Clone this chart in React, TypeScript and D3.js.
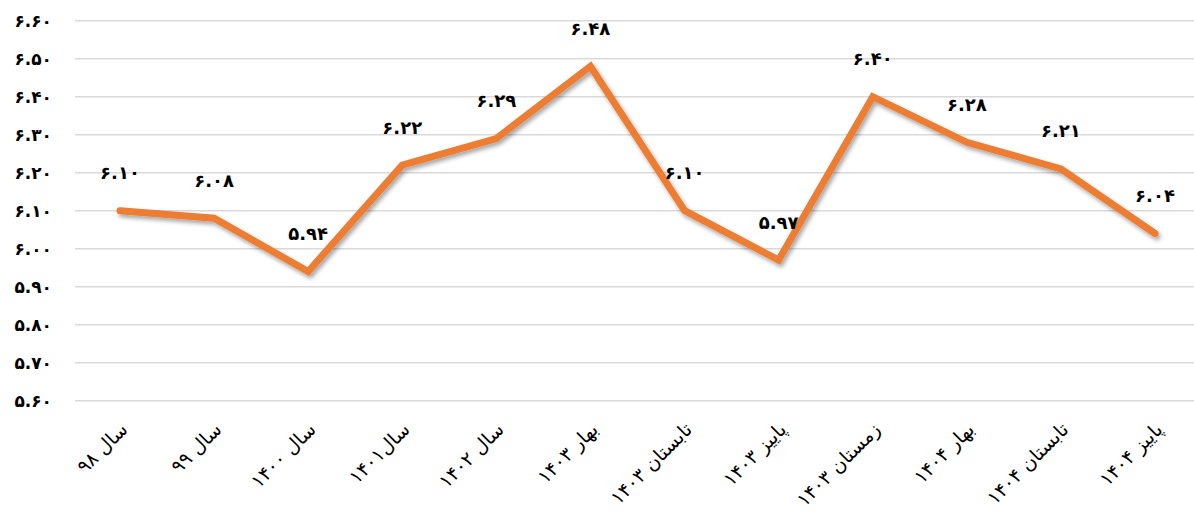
import React from "react";
import * as d3 from "d3";

const categories: string[] = [
  "سال ۹۸",
  "سال ۹۹",
  "سال ۱۴۰۰",
  "سال۱۴۰۱",
  "سال ۱۴۰۲",
  "بهار ۱۴۰۳",
  "تابستان ۱۴۰۳",
  "پاییز ۱۴۰۳",
  "زمستان ۱۴۰۳",
  "بهار ۱۴۰۴",
  "تابستان ۱۴۰۴",
  "پاییز ۱۴۰۴",
];

const values: number[] = [6.1, 6.08, 5.94, 6.22, 6.29, 6.48, 6.1, 5.97, 6.4, 6.28, 6.21, 6.04];

const yTicks: number[] = [5.6, 5.7, 5.8, 5.9, 6.0, 6.1, 6.2, 6.3, 6.4, 6.5, 6.6];

const W = 1194;
const H = 514;

const faDigits = "۰۱۲۳۴۵۶۷۸۹";
const toFa = (s: string) => s.replace(/[0-9]/g, (d) => faDigits[+d]);

export default function App() {
  const x = d3
    .scalePoint<string>()
    .domain(categories)
    .range([120, 1155]);
  const y = d3.scaleLinear().domain([5.6, 6.6]).range([400.7, 20.7]);

  const line = d3
    .line<number>()
    .x((_, i) => x(categories[i]) as number)
    .y((d) => y(d));

  return (
    <svg
      width={W}
      height={H}
      style={{ position: "absolute", left: 0, top: 0, background: "#fff" }}
    >
      <defs>
        <filter id="sh" x="-10%" y="-10%" width="120%" height="130%">
          <feDropShadow dx="2" dy="3" stdDeviation="2" floodColor="#000" floodOpacity="0.35" />
        </filter>
      </defs>
      <g>
        {yTicks.map((t) => (
          <g key={t}>
            <line x1={75} x2={W} y1={y(t)} y2={y(t)} stroke="#d9d9d9" strokeWidth={1.5} />
            <text
              x={52}
              y={y(t)}
              textAnchor="end"
              dominantBaseline="central"
              fontFamily="'DejaVu Sans', sans-serif"
              fontWeight="bold"
              fontSize={17}
              fill="#000"
            >
              {toFa(t.toFixed(2))}
            </text>
          </g>
        ))}
      </g>
      <path
        d={line(values) || ""}
        fill="none"
        stroke="#ED7D31"
        strokeWidth={7}
        strokeLinejoin="miter"
        strokeLinecap="round"
        filter="url(#sh)"
      />
      {values.map((v, i) => (
        <text
          key={i}
          x={x(categories[i]) as number}
          y={y(v) - 38}
          textAnchor="middle"
          dominantBaseline="central"
          fontFamily="'DejaVu Sans', sans-serif"
          fontWeight="bold"
          fontSize={18}
          fill="#000"
        >
          {toFa(v.toFixed(2))}
        </text>
      ))}
      {categories.map((c) => (
        <text
          key={c}
          transform={`translate(${(x(c) as number) - 2},${420}) rotate(-45)`}
          textAnchor="end"
          dy="0.8em"
          fontFamily="'DejaVu Sans', sans-serif"
          fontSize={19}
          fill="#000"
        >
          {c}
        </text>
      ))}
    </svg>
  );
}
